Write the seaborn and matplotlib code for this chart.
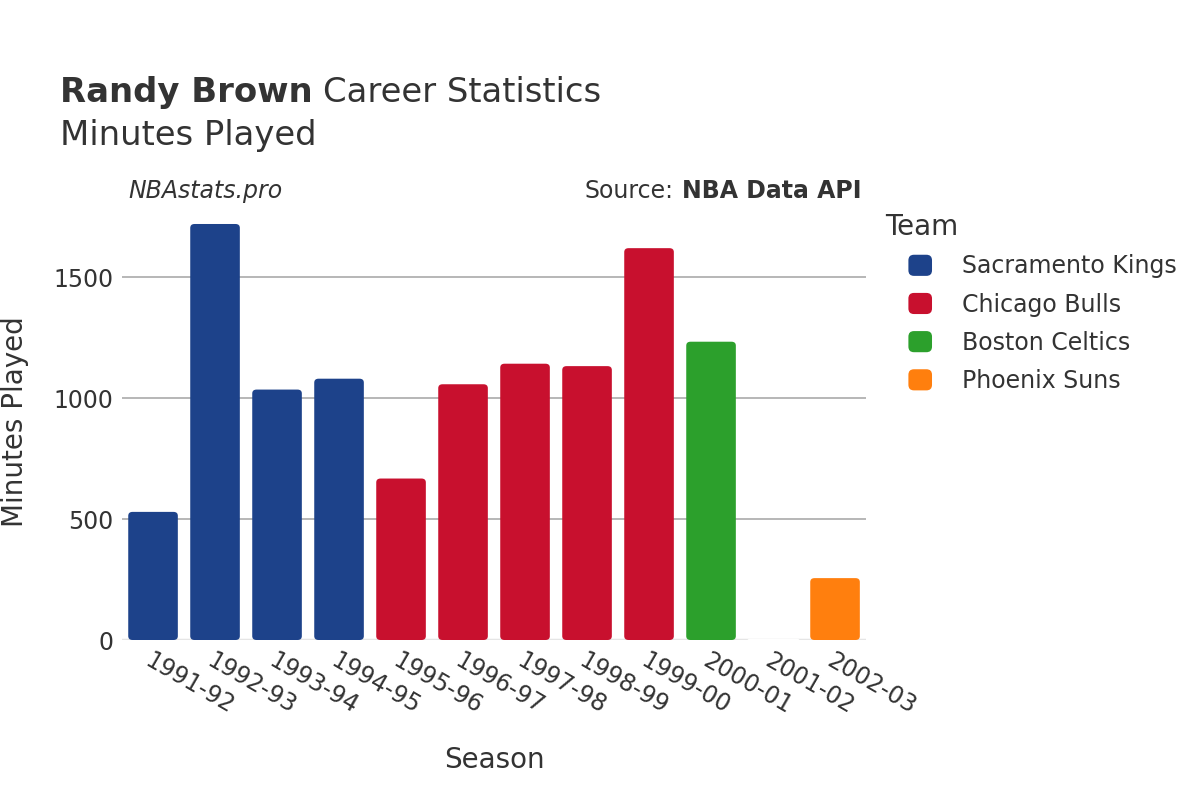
import pandas as pd
import matplotlib.pyplot as plt
import seaborn as sns
from matplotlib.patches import FancyBboxPatch, Rectangle
from matplotlib.legend_handler import HandlerPatch

# Data
seasons = ["1991-92", "1992-93", "1993-94", "1994-95", "1995-96", "1996-97",
           "1997-98", "1998-99", "1999-00", "2000-01", "2001-02", "2002-03"]
minutes = [530, 1721, 1036, 1081, 668, 1058, 1143, 1133, 1621, 1234, 4, 256]
teams = ["Sacramento Kings"] * 4 + ["Chicago Bulls"] * 5 + ["Boston Celtics"] * 2 + ["Phoenix Suns"]
team_colors = {
    "Sacramento Kings": "#1D428A",
    "Chicago Bulls": "#C8102E",
    "Boston Celtics": "#2CA02C",
    "Phoenix Suns": "#FF7F0E",
}

df = pd.DataFrame({"Season": seasons, "Minutes": minutes, "Team": teams})

sns.set_style("white")
plt.rcParams["font.family"] = ["DejaVu Sans"]
text_color = "#333333"

fig = plt.figure(figsize=(12, 8), dpi=100)
ax = fig.add_axes([0.1017, 0.2, 0.62, 0.546])

sns.barplot(data=df, x="Season", y="Minutes", hue="Team", palette=team_colors,
            dodge=False, width=0.8, saturation=1, ax=ax, zorder=3)

ax.set_ylim(0, 1807)
ax.set_xlim(-0.5, 11.5)

# rounded bar tops
for p in list(ax.patches):
    h = p.get_height()
    if h < 40:
        continue
    x, w = p.get_x(), p.get_width()
    fb = FancyBboxPatch((x, 0), w, h, boxstyle="round,pad=0,rounding_size=0.07",
                        mutation_aspect=230, facecolor=p.get_facecolor(),
                        edgecolor="none", zorder=3)
    p.remove()
    ax.add_patch(fb)

ax.set_yticks([0, 500, 1000, 1500])
ax.yaxis.grid(True, color="#aaaaaa", linewidth=1.2, zorder=0)
ax.axhline(0, color="#e5e5e5", linewidth=2.5, zorder=2)
for side in ["top", "right", "left", "bottom"]:
    ax.spines[side].set_visible(False)
ax.tick_params(axis="both", length=0, labelsize=17, colors=text_color, pad=6)
plt.setp(ax.get_xticklabels(), rotation=-30, ha="left", rotation_mode="anchor")
ax.set_xlabel("Season", fontsize=20, color=text_color, labelpad=20)
ax.set_ylabel("Minutes Played", fontsize=20, color=text_color, labelpad=18)

# Titles
fig.canvas.draw()
renderer = fig.canvas.get_renderer()
t1 = fig.text(0.05, 0.873, "Randy Brown", fontsize=24.4, fontweight="bold", color=text_color, va="baseline")
bb = t1.get_window_extent(renderer)
fig.text(bb.x1 / 1200 + 0.009, 0.873, "Career Statistics", fontsize=24.4, color=text_color, va="baseline")
fig.text(0.05, 0.819, "Minutes Played", fontsize=24.4, color=text_color, va="baseline")
fig.text(0.107, 0.752, "NBAstats.pro", fontsize=17, style="italic", color=text_color, va="baseline")
t2 = fig.text(0.718, 0.752, "NBA Data API", fontsize=17, fontweight="bold", color=text_color,
              va="baseline", ha="right")
bb2 = t2.get_window_extent(renderer)
fig.text(bb2.x0 / 1200 - 0.007, 0.752, "Source:", fontsize=17, color=text_color, va="baseline", ha="right")


# rounded legend markers
class RoundHandler(HandlerPatch):
    def create_artists(self, legend, orig_handle, xdescent, ydescent, width, height, fontsize, trans):
        p = FancyBboxPatch((-xdescent, -ydescent), width, height,
                           boxstyle="round,pad=0,rounding_size=4",
                           facecolor=orig_handle.get_facecolor(), edgecolor="none", transform=trans)
        return [p]


handles = [Rectangle((0, 0), 1, 1, facecolor=team_colors[t]) for t in team_colors]
ax.get_legend().remove()

fig.text(0.7375, 0.716, "Team", fontsize=20, color=text_color, va="center")
leg = ax.legend(handles, list(team_colors), loc="upper left", bbox_to_anchor=(0.757, 0.682),
                bbox_transform=fig.transFigure, frameon=False,
                fontsize=17, handlelength=1.0, handleheight=1.0,
                handletextpad=1.27, labelspacing=0.6, borderaxespad=0, borderpad=0,
                handler_map={Rectangle: RoundHandler()})
for t in leg.get_texts():
    t.set_color(text_color)

fig.savefig("out.png", dpi=100)
